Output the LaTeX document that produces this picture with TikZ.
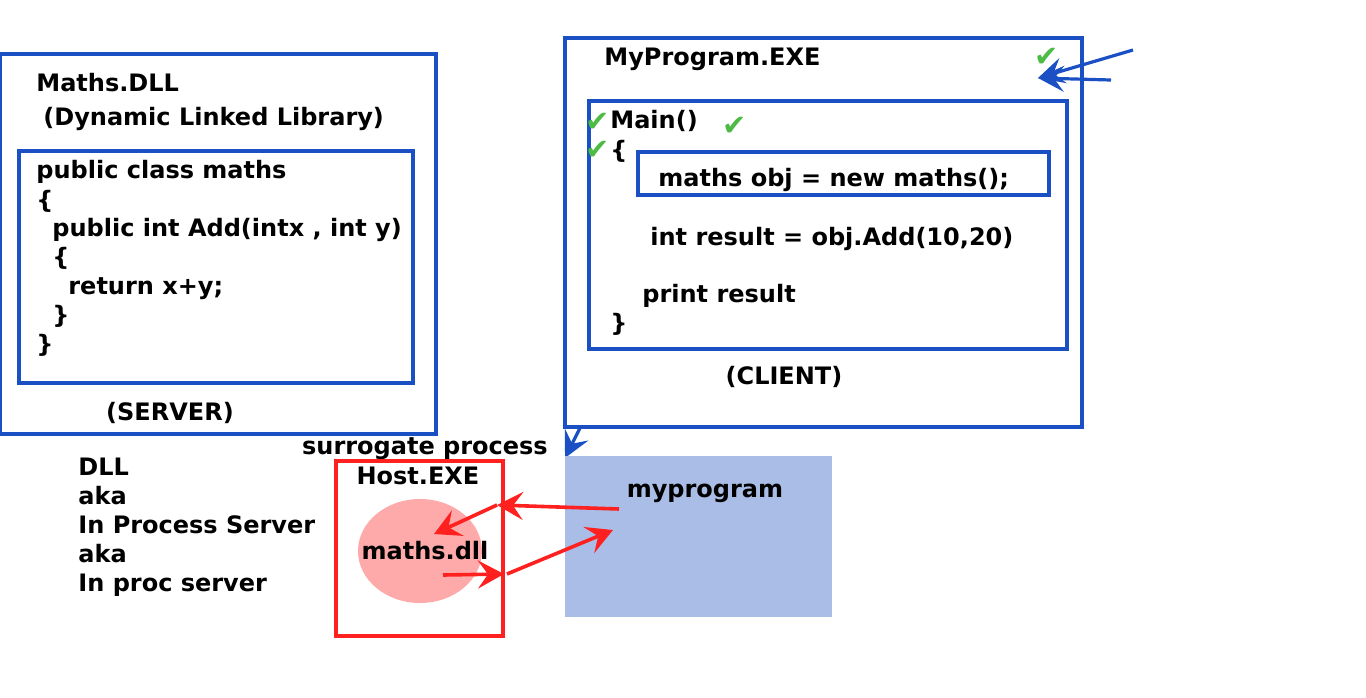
\documentclass[tikz,border=0pt]{standalone}
\usepackage{fontspec}
\setmainfont{DejaVu Sans}
\usetikzlibrary{arrows.meta,shapes.geometric}
\definecolor{boxblue}{HTML}{1A50C4}
\definecolor{hostred}{HTML}{FF2020}
\definecolor{tickgreen}{HTML}{4DBB45}
\definecolor{procblue}{HTML}{A9BDE6}
\definecolor{dllpink}{HTML}{FFAAAA}
\tikzset{
	txt/.style={anchor=base west,yshift=-4.4pt,inner sep=0pt,font=\fontsize{12}{14}\selectfont\bfseries},
	ctxt/.style={txt,anchor=base},
	tick/.style={inner sep=0pt,text=tickgreen,font=\fontsize{14.5}{15}\selectfont},
	bluebox/.style={draw=boxblue,line width=1.7pt},
	redbox/.style={draw=hostred,line width=1.7pt},
	bluearr/.style={draw=boxblue,line width=1.6pt,-{Stealth[length=13pt,width=13pt,inset=5pt]}},
	redarr/.style={draw=hostred,line width=1.8pt,-{Stealth[length=13pt,width=14pt,inset=5pt]}}
}
\begin{document}
\begin{tikzpicture}[x=0.5pt,y=-0.5pt]
	\useasboundingbox (0,0) rectangle (1366,697);
	%server box
	\draw[bluebox] (0,54) rectangle (436,434);
	\draw[bluebox] (19,151) rectangle (413,383);
	\node[txt] (dllname) at (36,83) {Maths.DLL};
	\node[txt] (dllfull) at (43,117) {(Dynamic Linked Library)};
	\node[txt] (cls) at (36,170) {public class maths};
	\node[txt] (clsopen) at (36,200) {\{};
	\node[txt] (add) at (52,228) {public int Add(intx , int y)};
	\node[txt] (addopen) at (52,257) {\{};
	\node[txt] (ret) at (68,286) {return x+y;};
	\node[txt] (addclose) at (52,315) {\}};
	\node[txt] (clsclose) at (36,344) {\}};
	\node[ctxt] (server) at (170,412) {(SERVER)};
	
	%client box
	\draw[bluebox] (565,38) rectangle (1082,427);
	\draw[bluebox] (589,101) rectangle (1067,349);
	\draw[bluebox] (638,152) rectangle (1049,195);
	\node[txt] (exename) at (604,57) {MyProgram.EXE};
	\node[txt] (main) at (610,120) {Main()};
	\node[txt] (mainopen) at (610,150) {\{};
	\node[txt] (newobj) at (658,178) {maths obj = new maths();};
	\node[txt] (result) at (650,237) {int result = obj.Add(10,20)};
	\node[txt] (print) at (642,294) {print result};
	\node[txt] (mainclose) at (610,323) {\}};
	\node[ctxt] (client) at (784,376) {(CLIENT)};
	%ticks
	\node[tick] (tickexe) at (1047,57) {✔};
	\node[tick] (tickmain) at (598,122) {✔};
	\node[tick] (tickopen) at (598,150) {✔};
	\node[tick] (tickcall) at (735,126) {✔};
	
	%blue arrows
	\coordinate (topin) at (1133,50);
	\coordinate (midin) at (1111,80);
	\coordinate (exetip) at (1038,78);
	\draw[bluearr] (topin) -- (exetip);
	\draw[bluearr] (midin) -- (exetip);
	\coordinate (clientcorner) at (580,428);
	\coordinate (proccorner) at (565,458);
	\draw[bluearr] (clientcorner) -- (proccorner);
	
	%left notes
	\node[txt] (dll) at (78,467) {DLL};
	\node[txt] (aka1) at (78,496) {aka};
	\node[txt] (inproc) at (78,525) {In Process Server};
	\node[txt] (aka2) at (78,554) {aka};
	\node[txt] (inprocs) at (78,583) {In proc server};
	
	%surrogate host
	\node[ctxt] (surrogate) at (425,446) {surrogate process};
	\draw[redbox] (336,461) rectangle (503,636);
	\node[ctxt] (host) at (418,476) {Host.EXE};
	\node[ellipse,fill=dllpink,minimum width=62pt,minimum height=52pt,inner sep=0pt] (dllell) at (420,551) {};
	\node[ctxt] (dllfile) at (425,551) {maths.dll};
	
	%process box
	\node[fill=procblue,minimum width=133.5pt,minimum height=80.5pt,inner sep=0pt] (proc) at (698.5,536.5) {};
	\node[ctxt] (myprog) at (705,489) {myprogram};
	
	%red arrows
	\coordinate (procout) at (619,509);
	\coordinate (hostedge) at (497,505);
	\coordinate (dllin) at (434,534);
	\coordinate (dllout) at (443,575);
	\coordinate (hostexit) at (504,574);
	\coordinate (hostfrom) at (507,574);
	\coordinate (procin) at (613,530);
	\draw[redarr] (procout) -- (hostedge);
	\draw[redarr] (hostedge) -- (dllin);
	\draw[redarr] (dllout) -- (hostexit);
	\draw[redarr] (hostfrom) -- (procin);
\end{tikzpicture}
\end{document}
